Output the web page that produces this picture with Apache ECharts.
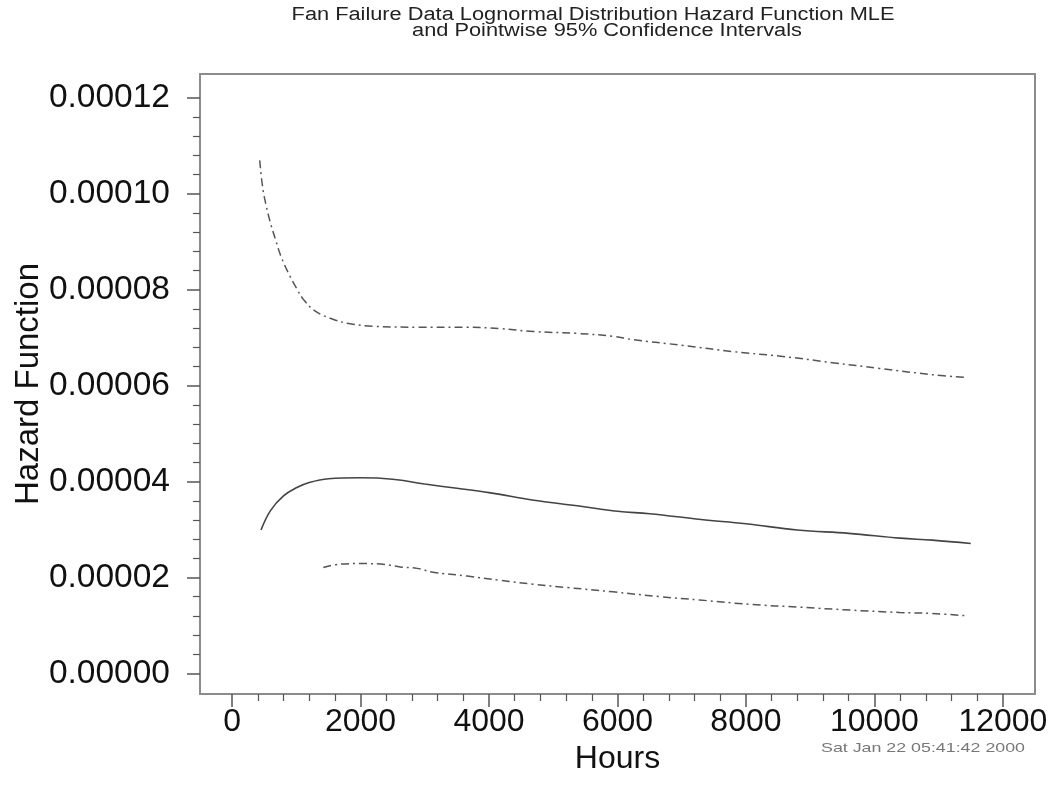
<!DOCTYPE html>
<html>
<head>
<meta charset="utf-8">
<title>Fan Failure Data Lognormal Hazard Function</title>
<script src="https://cdn.jsdelivr.net/npm/echarts@6/dist/echarts.min.js"></script>
<style>
  html, body { margin: 0; padding: 0; background: #fff; }
  #chart { width: 1055px; height: 799px; }
</style>
</head>
<body>
<div id="chart"></div>
<script>
// Hours at which the hazard estimates are evaluated
const mleHours   = [450, 600, 800, 1000, 1200, 1500, 2000, 2500, 3000, 3500, 4000, 4700, 5400, 6000, 6500, 7300, 8000, 8800, 9600, 10400, 10900, 11500];
// Maximum-likelihood hazard estimate
const mleHazard  = [0.0000299, 0.0000340, 0.0000370, 0.0000387, 0.0000398, 0.0000406, 0.0000408, 0.0000405, 0.0000395, 0.0000386, 0.0000377, 0.0000361, 0.0000349, 0.0000338, 0.0000333, 0.0000321, 0.0000312, 0.0000299, 0.0000292, 0.0000282, 0.0000278, 0.0000271];

// Pointwise 95% upper confidence limit
const upperHours  = [430, 475, 530, 600, 680, 760, 880, 1000, 1110, 1300, 1580, 1840, 2200, 2900, 3650, 4170, 4690, 5370, 5930, 6240, 7020, 7800, 8570, 9350, 10080, 10900, 11450];
const upperHazard = [0.0001070, 0.0001014, 0.0000976, 0.0000938, 0.0000903, 0.0000870, 0.0000834, 0.0000804, 0.0000780, 0.0000755, 0.0000738, 0.0000729, 0.0000724, 0.0000722, 0.0000722, 0.0000719, 0.0000713, 0.0000709, 0.0000703, 0.0000696, 0.0000684, 0.0000671, 0.0000661, 0.0000648, 0.0000636, 0.0000623, 0.0000617];

// Pointwise 95% lower confidence limit
const lowerHours  = [1420, 1690, 2000, 2310, 2620, 2880, 3130, 3660, 4170, 4690, 5220, 5930, 6660, 7280, 8060, 8840, 9620, 10390, 10900, 11450];
const lowerHazard = [0.0000221, 0.0000228, 0.0000229, 0.0000228, 0.0000222, 0.0000219, 0.0000211, 0.0000203, 0.0000194, 0.0000186, 0.0000179, 0.0000170, 0.0000160, 0.0000153, 0.0000144, 0.0000138, 0.0000132, 0.0000127, 0.0000125, 0.0000120];

// Axis tick values
const xMajorTicks = [0, 2000, 4000, 6000, 8000, 10000, 12000];
const xMinorTicks = [400, 800, 1200, 1600, 2400, 2800, 3200, 3600, 4400, 4800, 5200, 5600, 6400, 6800, 7200, 7600, 8400, 8800, 9200, 9600, 10400, 10800, 11200, 11600];
const yMajorTicks = [0, 0.00002, 0.00004, 0.00006, 0.00008, 0.00010, 0.00012];
const yMinorTicks = [0.000004, 0.000008, 0.000012, 0.000016, 0.000024, 0.000028, 0.000032, 0.000036, 0.000044, 0.000048, 0.000052, 0.000056, 0.000064, 0.000068, 0.000072, 0.000076, 0.000084, 0.000088, 0.000092, 0.000096, 0.000104, 0.000108, 0.000112, 0.000116];

const titleLine1 = 'Fan Failure Data Lognormal Distribution Hazard Function MLE';
const titleLine2 = 'and Pointwise 95% Confidence Intervals';
const stampText = 'Sat Jan 22 05:41:42 2000';

const pair = (xs, ys) => xs.map((x, i) => [x, ys[i]]);

const xRange = { min: -500, max: 12500 };
const yRange = { min: -0.0000043, max: 0.000125 };

const frameColor = '#8c8c8c';
const tickColor = '#555';
const font = 'Liberation Sans, Arial, Helvetica, sans-serif';

const chart = echarts.init(document.getElementById('chart'), null, { renderer: 'canvas' });

// Wide, small-lettered heading and time stamp
const wideText = (text, x, y, size, color, align, stretch) => ({
  type: 'text', x: x, y: y, scaleX: stretch, scaleY: 1,
  style: { text: text, font: size + 'px ' + font, fill: color, textAlign: align, textVerticalAlign: 'middle' }
});

chart.setOption({
  animation: false,
  backgroundColor: '#fff',
  graphic: [
    wideText(titleLine1, 593, 15, 18, '#222', 'center', 1.21),
    wideText(titleLine2, 607, 31, 18, '#222', 'center', 1.21),
    wideText(stampText, 1025, 748, 13, '#777', 'right', 1.37)
  ],
  grid: {
    left: 200, right: 20, top: 74, bottom: 105,
    containLabel: false, outerBoundsMode: 'none',
    show: true, borderColor: frameColor, borderWidth: 2, backgroundColor: '#fff'
  },
  xAxis: [
    {
      type: 'value', min: xRange.min, max: xRange.max, position: 'bottom',
      name: 'Hours', nameLocation: 'middle', nameGap: 42,
      nameTextStyle: { fontFamily: font, fontSize: 32, color: '#111' },
      axisLine: { show: true, onZero: false, lineStyle: { color: frameColor, width: 2 } },
      axisTick: { show: true, customValues: xMajorTicks, length: 13, lineStyle: { color: tickColor, width: 1.5 } },
      axisLabel: { show: true, customValues: xMajorTicks, margin: 12, fontFamily: font, fontSize: 32, color: '#111',
                   formatter: v => String(v) },
      splitLine: { show: false }
    },
    {
      type: 'value', min: xRange.min, max: xRange.max, position: 'bottom', offset: 0,
      axisLine: { show: false, onZero: false },
      axisTick: { show: true, customValues: xMinorTicks, length: 7, lineStyle: { color: tickColor, width: 1.2 } },
      axisLabel: { show: false },
      splitLine: { show: false }
    }
  ],
  yAxis: [
    {
      type: 'value', min: yRange.min, max: yRange.max, position: 'left',
      name: 'Hazard Function', nameLocation: 'middle', nameGap: 155, nameMoveOverlap: false,
      nameTextStyle: { fontFamily: font, fontSize: 33, color: '#111' },
      axisLine: { show: true, onZero: false, lineStyle: { color: frameColor, width: 2 } },
      axisTick: { show: true, customValues: yMajorTicks, length: 13, lineStyle: { color: tickColor, width: 1.5 } },
      axisLabel: { show: true, customValues: yMajorTicks, margin: 30, fontFamily: font, fontSize: 33.5, color: '#111',
                   formatter: v => v.toFixed(5) },
      splitLine: { show: false }
    },
    {
      type: 'value', min: yRange.min, max: yRange.max, position: 'left', offset: 0,
      axisLine: { show: false, onZero: false },
      axisTick: { show: true, customValues: yMinorTicks, length: 7, lineStyle: { color: tickColor, width: 1.2 } },
      axisLabel: { show: false },
      splitLine: { show: false }
    }
  ],
  series: [
    {
      name: 'MLE', type: 'line', xAxisIndex: 0, yAxisIndex: 0,
      data: pair(mleHours, mleHazard), smooth: 0.4, showSymbol: false,
      lineStyle: { color: '#444', width: 1.6, type: 'solid' }
    },
    {
      name: 'Upper 95%', type: 'line', xAxisIndex: 0, yAxisIndex: 0,
      data: pair(upperHours, upperHazard), smooth: 0.4, showSymbol: false,
      lineStyle: { color: '#555', width: 1.5, type: [8, 4, 2, 4] }
    },
    {
      name: 'Lower 95%', type: 'line', xAxisIndex: 0, yAxisIndex: 0,
      data: pair(lowerHours, lowerHazard), smooth: 0.4, showSymbol: false,
      lineStyle: { color: '#555', width: 1.5, type: [8, 4, 2, 4] }
    }
  ]
});
</script>
</body>
</html>
